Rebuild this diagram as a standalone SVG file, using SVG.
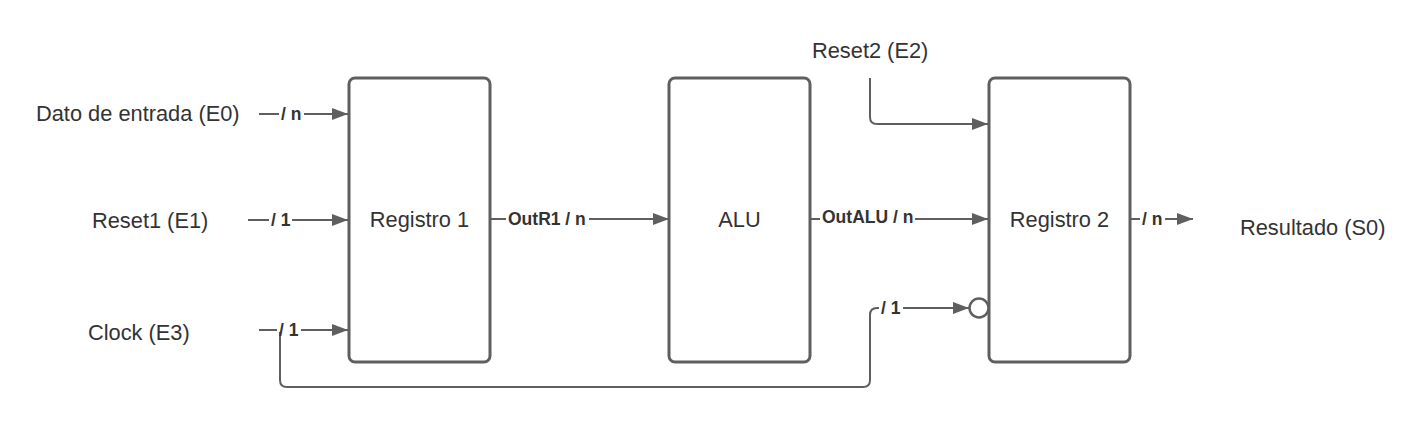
<svg xmlns="http://www.w3.org/2000/svg" width="1405" height="434" viewBox="0 0 1405 434">
<defs>
<style>
.box{fill:#fff;stroke:#5f5f5f;stroke-width:3}
.ln{fill:none;stroke:#5f5f5f;stroke-width:2}
.t{font-family:"Liberation Sans",Arial,sans-serif;font-size:21.8px;fill:#333}
.lb{font-family:"Liberation Sans",Arial,sans-serif;font-size:17.5px;font-weight:bold;fill:#333}
.bg{fill:#fff}
</style>
<marker id="ah" viewBox="0 0 16 12" refX="16" refY="6" markerWidth="16" markerHeight="12" markerUnits="userSpaceOnUse" orient="auto">
<path d="M0,0 L16,6 L0,12 z" fill="#5f5f5f"/>
</marker>
</defs>
<rect width="1405" height="434" fill="#fff"/>
<g id="connectors">
<path class="ln" d="M259,114 H348" marker-end="url(#ah)"/>
<path class="ln" d="M248,220 H348" marker-end="url(#ah)"/>
<path class="ln" d="M259,330 H348" marker-end="url(#ah)"/>
<path class="ln" d="M280,332 V380 Q280,387 287,387 H863 Q870,387 870,380 V315 Q870,308 877,308 H969" marker-end="url(#ah)"/>
<path class="ln" d="M870,78 V117 Q870,124 877,124 H988" marker-end="url(#ah)"/>
<path class="ln" d="M490,219 H669" marker-end="url(#ah)"/>
<path class="ln" d="M809,219 H988" marker-end="url(#ah)"/>
<path class="ln" d="M1130,219 H1193" marker-end="url(#ah)"/>
<rect class="bg" x="279" y="104" width="25" height="20"/>
<text class="lb" x="281" y="120">/ n</text>
<rect class="bg" x="269" y="210" width="23" height="20"/>
<text class="lb" x="271" y="226">/ 1</text>
<rect class="bg" x="277" y="319" width="24" height="12"/>
<text class="lb" x="279" y="336">/ 1</text>
<rect class="bg" x="506" y="209" width="83" height="20"/>
<text class="lb" x="508" y="225">OutR1 / n</text>
<rect class="bg" x="820" y="207" width="95" height="20"/>
<text class="lb" x="822" y="223">OutALU / n</text>
<rect class="bg" x="879" y="298" width="24" height="20"/>
<text class="lb" x="881" y="314">/ 1</text>
<rect class="bg" x="1140" y="209" width="25" height="20"/>
<text class="lb" x="1142" y="225">/ n</text>
</g>
<g id="registro1"><rect class="box" x="349" y="78" width="141" height="284" rx="6"/><text class="t" x="419.5" y="227" text-anchor="middle">Registro 1</text></g>
<g id="alu"><rect class="box" x="669" y="78" width="141" height="284" rx="6"/><text class="t" x="739.5" y="227" text-anchor="middle">ALU</text></g>
<g id="registro2"><rect class="box" x="989" y="78" width="141" height="284" rx="6"/><text class="t" x="1059.5" y="227" text-anchor="middle">Registro 2</text></g>
<g id="negation"><circle cx="979" cy="308" r="9.5" fill="#fff" stroke="#5f5f5f" stroke-width="2.5"/></g>
<g id="in-e0"><text class="t" x="36" y="121">Dato de entrada (E0)</text></g>
<g id="in-e1"><text class="t" x="92" y="228">Reset1 (E1)</text></g>
<g id="in-e3"><text class="t" x="88" y="340">Clock (E3)</text></g>
<g id="in-e2"><text class="t" x="812" y="58">Reset2 (E2)</text></g>
<g id="out-s0"><text class="t" x="1240" y="235">Resultado (S0)</text></g>
</svg>
